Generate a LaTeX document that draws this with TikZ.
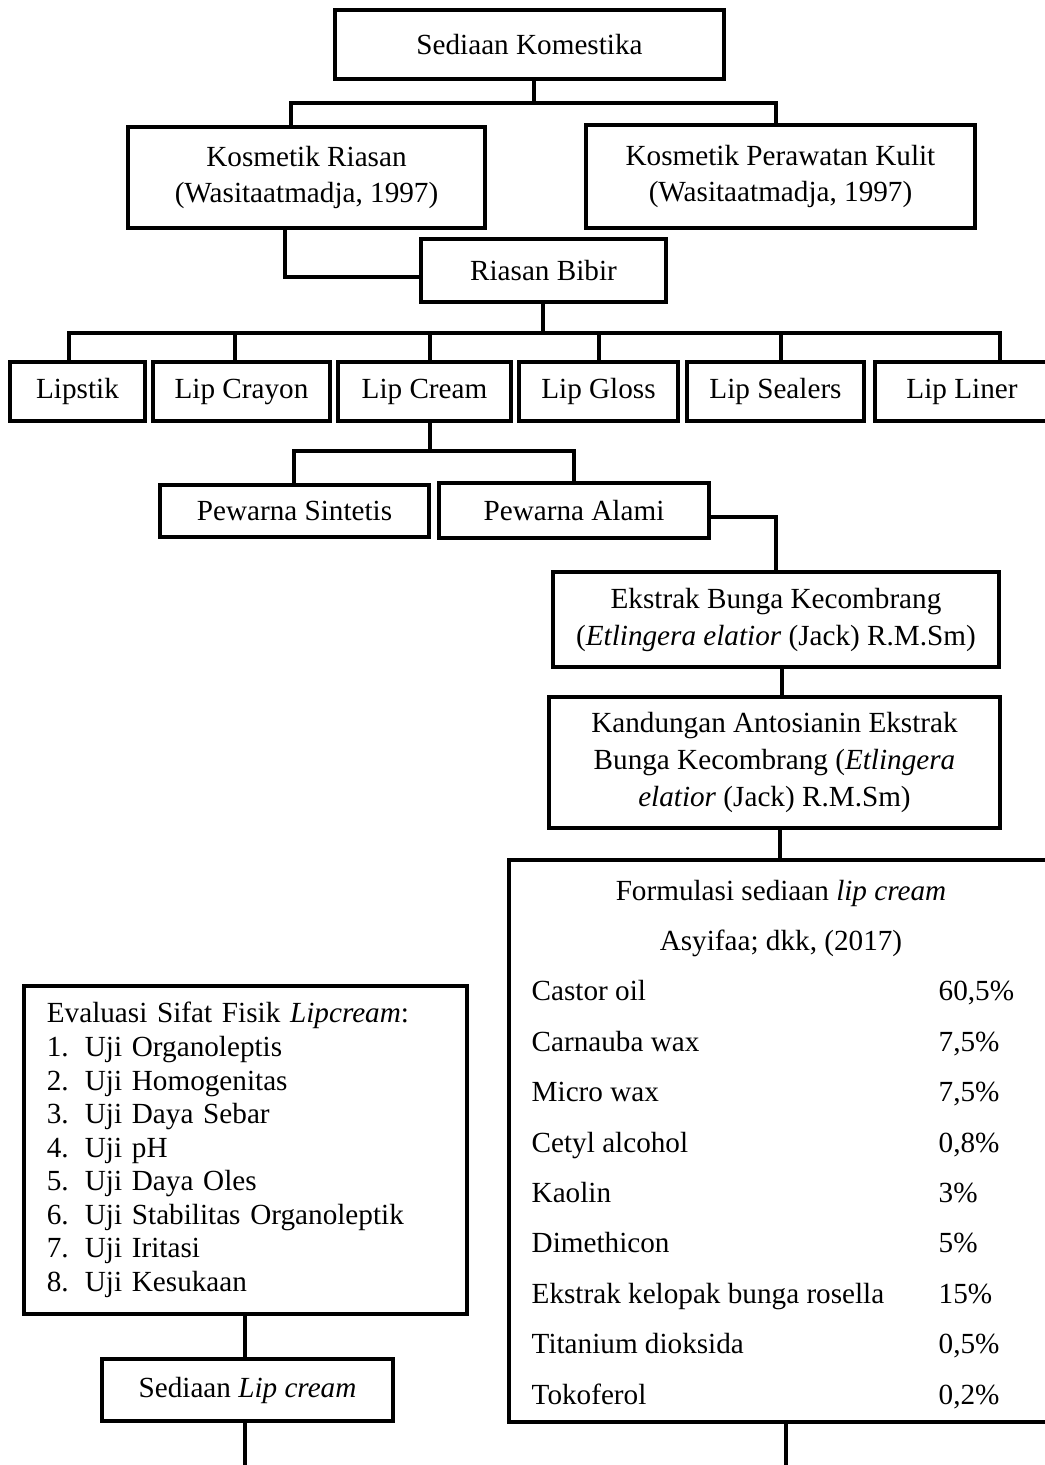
\documentclass[tikz,border=0pt]{standalone}
\usepackage{fontspec}
\setmainfont{Liberation Serif}
\begin{document}
\begin{tikzpicture}[x=0.01cm,y=-0.01cm,
  box/.style={draw,line width=1pt,inner sep=0pt,align=center,font=\fontsize{8.3}{10.5}\selectfont},
  conn/.style={line width=0.9pt,line cap=rect},
  txt/.style={inner sep=0pt,anchor=base west,font=\fontsize{8.3}{10.5}\selectfont}]
\useasboundingbox (0,0) rectangle (1044,1465);
\fill[white] (0,0) rectangle (1044,1465);

% boxes
\node[box,minimum width=3.89cm,minimum height=0.69cm] (sk) at (529.5,44.5) {Sediaan Komestika};
\node[box,minimum width=3.57cm,minimum height=1.01cm] (kr) at (306.5,177.5) {Kosmetik Riasan\\(Wasitaatmadja, 1997)};
\node[box,minimum width=3.89cm,minimum height=1.03cm] (kp) at (780.5,176.5) {Kosmetik Perawatan Kulit\\(Wasitaatmadja, 1997)};
\node[box,minimum width=2.45cm,minimum height=0.63cm] (rb) at (543.5,270.5) {Riasan Bibir};

\node[box,minimum width=1.35cm,minimum height=0.59cm] (lipstik) at (77.5,391.5) {Lipstik};
\node[box,minimum width=1.77cm,minimum height=0.59cm] (crayon) at (241.5,391.5) {Lip Crayon};
\node[box,minimum width=1.73cm,minimum height=0.59cm] (cream) at (424.5,391.5) {Lip Cream};
\node[box,minimum width=1.59cm,minimum height=0.59cm] (gloss) at (598.5,391.5) {Lip Gloss};
\node[box,minimum width=1.77cm,minimum height=0.59cm] (sealers) at (775.5,391.5) {Lip Sealers};
\node[box,minimum width=1.74cm,minimum height=0.59cm] (liner) at (962,391.5) {Lip Liner};

\node[box,minimum width=2.69cm,minimum height=0.52cm] (ps) at (294.5,511) {Pewarna Sintetis};
\node[box,minimum width=2.70cm,minimum height=0.55cm] (pa) at (574,510.5) {Pewarna Alami};

\node[box,minimum width=4.46cm,minimum height=0.95cm] (ek) at (776,619.5) {Ekstrak Bunga Kecombrang\\(\textit{Etlingera elatior} (Jack) R.M.Sm)};
\node[box,minimum width=4.51cm,minimum height=1.31cm] (kd) at (774.5,762.5) {Kandungan Antosianin Ekstrak\\Bunga Kecombrang (\textit{Etlingera}\\\textit{elatior} (Jack) R.M.Sm)};

\node[box,minimum width=5.44cm,minimum height=5.62cm] (fm) at (781,1141) {};
\node[box,text width=3.97cm,inner xsep=0.23cm,minimum height=3.28cm,align=left,font=\fontsize{8.3}{9.55}\selectfont] (ev) at (245.5,1150) {Evaluasi Sifat Fisik \textit{Lipcream}:\\
\makebox[0.38cm][l]{1.}Uji Organoleptis\\
\makebox[0.38cm][l]{2.}Uji Homogenitas\\
\makebox[0.38cm][l]{3.}Uji Daya Sebar\\
\makebox[0.38cm][l]{4.}Uji pH\\
\makebox[0.38cm][l]{5.}Uji Daya Oles\\
\makebox[0.38cm][l]{6.}Uji Stabilitas Organoleptik\\
\makebox[0.38cm][l]{7.}Uji Iritasi\\
\makebox[0.38cm][l]{8.}Uji Kesukaan};
\node[box,minimum width=2.91cm,minimum height=0.62cm] (sl) at (247.5,1390) {Sediaan \textit{Lip cream}};

% formulation text
\node[txt,anchor=base] (ft1) at (781,900) {Formulasi sediaan \textit{lip cream}};
\node[txt,anchor=base] (ft2) at (781,950.4) {Asyifaa; dkk, (2017)};
\node[txt] (r1) at (531,1000.8) {Castor oil};
\node[txt] (p1) at (938,1000.8) {60,5\%};
\node[txt] (r2) at (531,1051.2) {Carnauba wax};
\node[txt] (p2) at (938,1051.2) {7,5\%};
\node[txt] (r3) at (531,1101.6) {Micro wax};
\node[txt] (p3) at (938,1101.6) {7,5\%};
\node[txt] (r4) at (531,1152) {Cetyl alcohol};
\node[txt] (p4) at (938,1152) {0,8\%};
\node[txt] (r5) at (531,1202.4) {Kaolin};
\node[txt] (p5) at (938,1202.4) {3\%};
\node[txt] (r6) at (531,1252.8) {Dimethicon};
\node[txt] (p6) at (938,1252.8) {5\%};
\node[txt] (r7) at (531,1303.2) {Ekstrak kelopak bunga rosella};
\node[txt] (p7) at (938,1303.2) {15\%};
\node[txt] (r8) at (531,1353.6) {Titanium dioksida};
\node[txt] (p8) at (938,1353.6) {0,5\%};
\node[txt] (r9) at (531,1404) {Tokoferol};
\node[txt] (p9) at (938,1404) {0,2\%};

% connector coordinates
\coordinate (h1L) at (291,103);
\coordinate (h1R) at (776,103);
\coordinate (c2) at (285,277);
\coordinate (h3L) at (69,333);
\coordinate (h3R) at (1000,333);
\coordinate (d2) at (235,333);
\coordinate (d3) at (430,333);
\coordinate (d4) at (599,333);
\coordinate (d5) at (781,333);
\coordinate (h4L) at (294,451);
\coordinate (h4R) at (574,451);
\coordinate (c4) at (430,451);
\coordinate (c5) at (776,517);
\coordinate (c6) at (782,680);
\coordinate (c7) at (780,840);
\coordinate (e1) at (245,1465);
\coordinate (e2) at (786,1465);

% connectors
\draw[conn] (sk.south -| 534,0) -- (534,103);
\draw[conn] (h1L |- kr.north) -- (h1L) -- (h1R) -- (h1R |- kp.north);
\draw[conn] (c2 |- kr.south) -- (c2) -- (rb.west |- c2);
\draw[conn] (rb.south -| 543,0) -- (543,333);
\draw[conn] (h3L |- lipstik.north) -- (h3L) -- (h3R) -- (h3R |- liner.north);
\draw[conn] (d2) -- (d2 |- crayon.north);
\draw[conn] (d3) -- (d3 |- cream.north);
\draw[conn] (d4) -- (d4 |- gloss.north);
\draw[conn] (d5) -- (d5 |- sealers.north);
\draw[conn] (c4 |- cream.south) -- (c4);
\draw[conn] (h4L |- ps.north) -- (h4L) -- (h4R) -- (h4R |- pa.north);
\draw[conn] (pa.east |- c5) -- (c5) -- (c5 |- ek.north);
\draw[conn] (c6 |- ek.south) -- (c6 |- kd.north);
\draw[conn] (c7 |- kd.south) -- (c7 |- fm.north);
\draw[conn] (e1 |- ev.south) -- (e1 |- sl.north);
\draw[conn] (e1 |- sl.south) -- (e1);
\draw[conn] (e2 |- fm.south) -- (e2);
\end{tikzpicture}
\end{document}
